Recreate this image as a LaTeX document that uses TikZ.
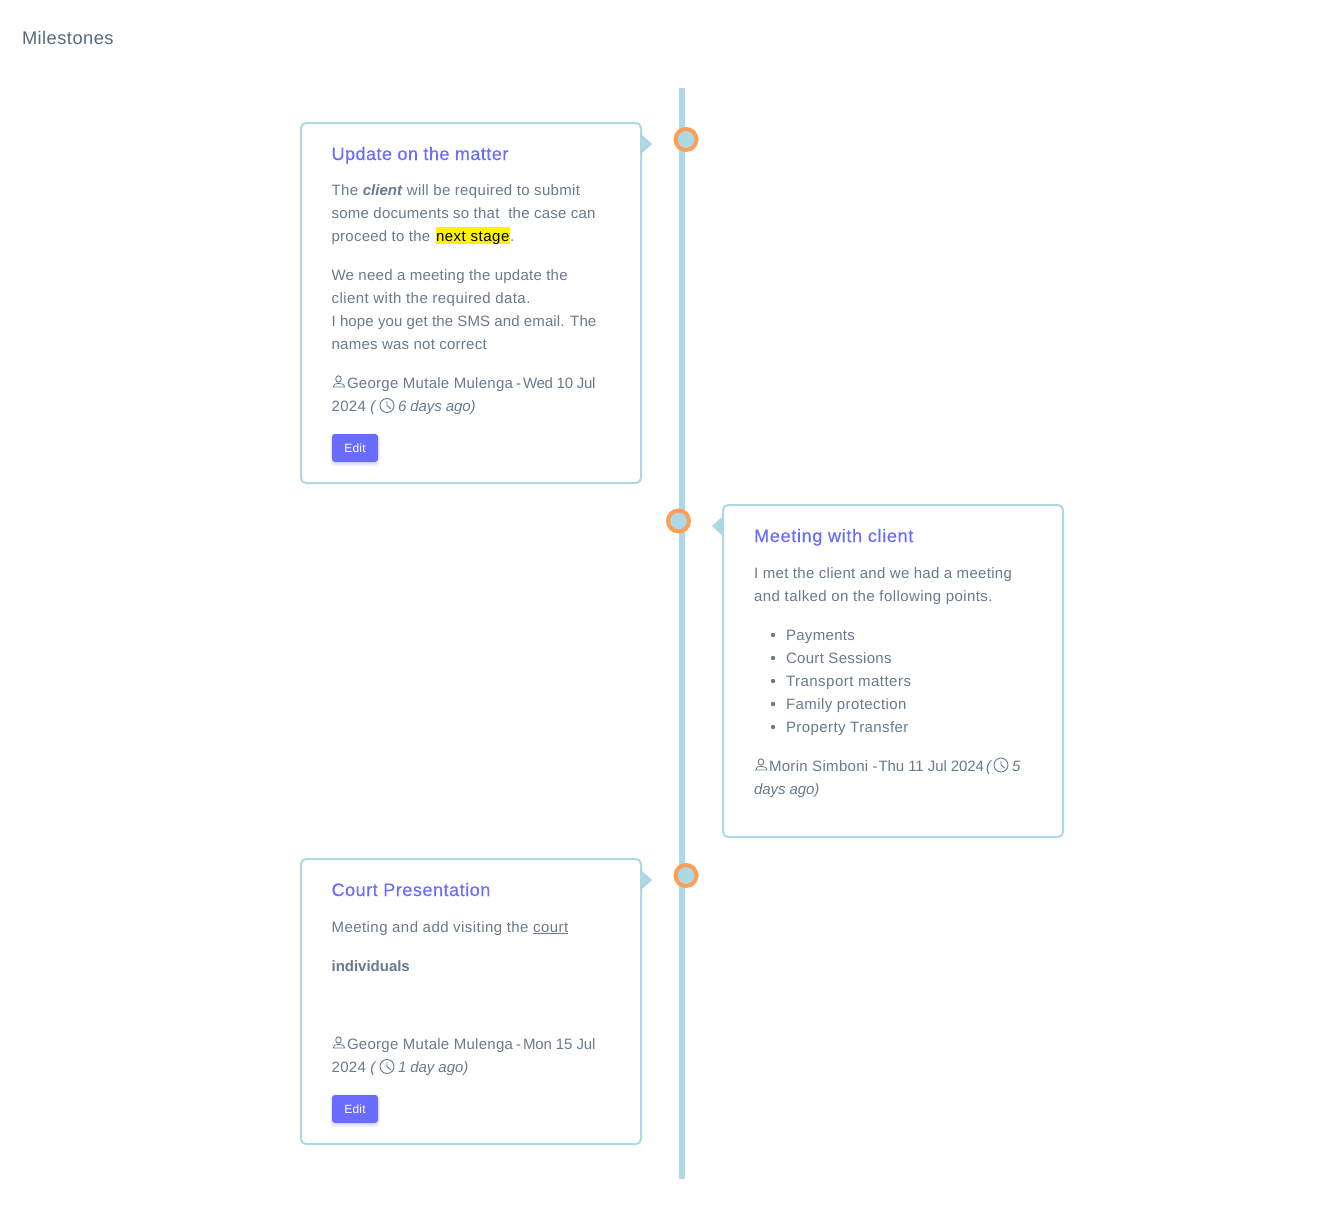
\documentclass[tikz,border=0pt]{standalone}
\usepackage{fontspec}
\setmainfont{Liberation Sans}[LetterSpace=1.65,ItalicFeatures={LetterSpace=-0.6},BoldFeatures={LetterSpace=-0.1},BoldItalicFeatures={LetterSpace=0}]
\newfontfamily\medfont{Liberation Sans}[LetterSpace=2.1,FakeBold=0.25]
\newcommand{\LS}[2]{{\addfontfeature{LetterSpace=#1}#2}}
\definecolor{body}{HTML}{697A8D}
\definecolor{head}{HTML}{566A7F}
\definecolor{prim}{HTML}{696CFF}
\definecolor{lblue}{HTML}{ADD8E6}
\definecolor{orng}{HTML}{FF9F55}
\tikzset{
 txt/.style={anchor=base west,inner sep=0pt,outer sep=0pt,text=body,font=\fontsize{15}{18}\selectfont},
 ttl/.style={txt,text=prim,font=\medfont\fontsize{18}{22}\selectfont},
 card/.style={draw=lblue,line width=2pt,rounded corners=5pt,fill=white},
 dotn/.style={circle,draw=orng,line width=4pt,fill=lblue,minimum size=21pt,inner sep=0pt},
 tip/.style={fill=lblue,draw=none},
 btn/.style={fill=prim,rounded corners=3pt,minimum width=46pt,minimum height=28pt,inner sep=0pt,text=white,font=\fontsize{12}{14}\selectfont},
 ico/.style={draw=body,line width=.9pt,line cap=round,line join=round,fill=none},
}
\newcommand{\personicon}[2]{%
 \draw[ico] (#1+6.5,#2-8) ellipse (2.8 and 3.2);
 \draw[ico,line width=.8pt] (#1+1,#2) -- (#1+12.5,#2) .. controls (#1+12.5,#2-3) and (#1+9,#2-3.6) .. (#1+6.7,#2-3.6) .. controls (#1+4,#2-3.6) and (#1+1,#2-3) .. (#1+1,#2) -- cycle;
}
\newcommand{\clockicon}[2]{%
 \draw[ico] (#1,#2) circle (7);
 \draw[ico] (#1,#2-4) -- (#1,#2) -- (#1+3.5,#2+3);
}
\newcommand{\shadowbtn}[2]{%
 \foreach \s in {3,2,1}{
  \fill[prim,opacity=.07,rounded corners=4pt] (#1-\s+1,#2+2-\s) rectangle (#1+45+\s,#2+29+\s);
 }
}
\begin{document}
\begin{tikzpicture}[x=1pt,y=-1pt]
\useasboundingbox[fill=white] (0,0) rectangle (1341,1215);
\node[txt,text=head,font=\addfontfeature{LetterSpace=2.5}\fontsize{18.3}{22}\selectfont] (mile) at (22,44.5) {Milestones};
% timeline
\fill[lblue] (679,88) rectangle (685,1179);
% cards
\draw[card] (301,123) rectangle (641,483);
\draw[card] (723,505) rectangle (1063,837);
\draw[card] (301,859) rectangle (641,1144);
\fill[tip] (641,134) -- (652,144) -- (641,154) -- cycle;
\fill[tip] (723,516) -- (712,526) -- (723,536) -- cycle;
\fill[tip] (641,870) -- (652,880) -- (641,890) -- cycle;
\node[dotn] (d1) at (686,139.5) {};
\node[dotn] (d2) at (678.5,521) {};
\node[dotn] (d3) at (686,875.5) {};
% card 1
\node[ttl] (t1) at (331.6,160) {\LS{2.65}{Update on the matter}};
\node[txt] (a1) at (331.6,195) {\LS{2.2}{The} \textbf{\textit{client}} \LS{2.3}{will be required to submit}};
\node[txt] (a2) at (331.6,218) {some documents so that\ \ the case can};
\fill[yellow] (436,227) rectangle (510,244);
\node[txt] (a3) at (331.6,241) {proceed to the};
\node[txt,text=black] (a3b) at (436,241) {\LS{3.5}{next stage}};
\node[txt] (a3c) at (510,241) {.};
\node[txt] (a4) at (331.6,280) {We need a meeting the update the};
\node[txt] (a5) at (331.6,303) {\LS{3}{client with the required data.}};
\node[txt] (a6) at (331.6,326) {\LS{0.75}{I hope you get the SMS and email. The}};
\node[txt] (a7) at (331.6,349) {names was not correct};
\personicon{332}{387}
\node[txt] (a8) at (347,388) {\LS{1.9}{George Mutale Mulenga}};
\node[txt] (a9) at (516,388) {-};
\node[txt] (a10) at (523,388) {\LS{-2.2}{Wed 10 Jul}};
\node[txt] (a11) at (331.6,411) {\LS{2.2}{2024} \textit{(}};
\clockicon{387}{405.5}
\node[txt] (a12) at (398,411) {\textit{6 days ago)}};
\shadowbtn{332}{434}
\node[btn] (b1) at (355,448) {Edit};
% card 2
\node[ttl] (t2) at (754.2,542) {\LS{3.85}{Meeting with client}};
\node[txt] (c1) at (754.2,578) {\LS{2}{I met the client and we had a meeting}};
\node[txt] (c2) at (754.2,601) {\LS{2.85}{and talked on the following points.}};
\foreach \n/\y/\s/\k in {1/640/Payments/2.1,2/663/Court Sessions/2.2,3/686/Transport matters/3.2,4/709/Family protection/2.8,5/732/Property Transfer/2.8}{
 \fill[body] (773,\y-5) circle (2.2);
 \node[txt] (li\n) at (786,\y) {\LS{\k}{\s}};
}
\personicon{754.5}{770}
\node[txt] (c3) at (769,771) {\LS{2.1}{Morin Simboni}};
\node[txt] (c4) at (872.5,771) {-};
\node[txt] (c5) at (878.5,771) {\LS{-0.55}{Thu 11 Jul 2024}};
\node[txt] (c5b) at (986,771) {\textit{(}};
\clockicon{1001}{765}
\node[txt] (c6) at (1012,771) {\textit{5}};
\node[txt] (c7) at (754.2,794) {\textit{days ago)}};
% card 3
\node[ttl] (t3) at (331.6,896) {\LS{3}{Court Presentation}};
\node[txt] (e1) at (331.6,932) {\LS{2.95}{Meeting and add visiting the \underline{court}}};
\node[txt] (e2) at (331.6,971) {\textbf{individuals}};
\personicon{332}{1048}
\node[txt] (e3) at (347,1049) {\LS{1.9}{George Mutale Mulenga}};
\node[txt] (e4) at (516,1049) {-};
\node[txt] (e5) at (523,1049) {\LS{-0.9}{Mon 15 Jul}};
\node[txt] (e6) at (331.6,1072) {\LS{2.2}{2024} \textit{(}};
\clockicon{387}{1066.5}
\node[txt] (e7) at (398,1072) {\textit{1 day ago)}};
\shadowbtn{332}{1095}
\node[btn] (b3) at (355,1109) {Edit};
\end{tikzpicture}
\end{document}
